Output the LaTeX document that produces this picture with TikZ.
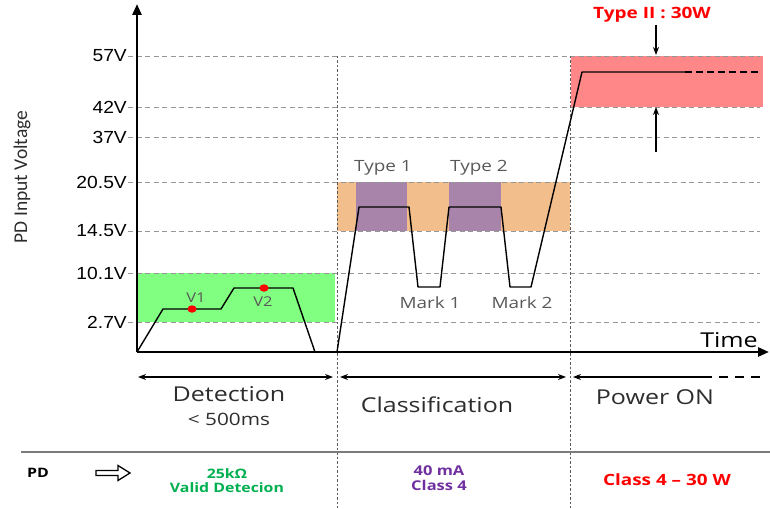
\documentclass[tikz,border=0pt]{standalone}
\usepackage{fontspec}
\setmainfont{Open Sans}
\newfontfamily\tickfont[FakeStretch=1.1]{Liberation Sans}
\newfontfamily\lblfont[FakeStretch=1.22]{Open Sans}
\newfontfamily\vfont{Carlito}
\usetikzlibrary{arrows.meta}

\definecolor{detgreen}{RGB}{128,255,128}
\definecolor{clsorange}{RGB}{242,190,140}
\definecolor{clspurple}{RGB}{168,132,170}
\definecolor{pwrred}{RGB}{255,135,135}
\definecolor{gridgray}{RGB}{150,150,150}
\definecolor{sepgray}{RGB}{90,90,90}
\definecolor{txtgray}{RGB}{89,89,89}
\definecolor{txtdark}{RGB}{45,45,45}
\definecolor{txtgreen}{RGB}{0,176,80}
\definecolor{txtpurple}{RGB}{112,48,160}

\newcommand{\fs}[1]{\fontsize{#1}{#1}\selectfont}

\tikzset{
  grid line/.style={gridgray, line width=0.9pt, dash pattern=on 5pt off 3.5pt},
  phase line/.style={sepgray, line width=0.8pt, dash pattern=on 2.5pt off 2pt},
  axis line/.style={black, line width=2.6pt, -{Triangle[length=11pt,width=9pt]}},
  wave/.style={black, line width=1.4pt, line join=round},
  span/.style={black, line width=1.2pt, {Stealth[length=8pt,width=6pt]}-{Stealth[length=8pt,width=6pt]}},
  level arrow/.style={black, line width=1.3pt, -{Stealth[length=8pt,width=6pt]}},
  tick label/.style={anchor=east, inner sep=0pt, font=\tickfont\fs{17.5}, text=black},
  wave label/.style={inner sep=0pt, font=\lblfont\fs{15.5}, text=txtgray},
  phase label/.style={inner sep=0pt, font=\lblfont\fs{20.5}, text=txtdark},
  pd label/.style={inner sep=0pt, align=center, font=\lblfont\bfseries\fs{13}},
  dot/.style={ellipse, fill=red, inner sep=0pt, minimum width=9pt, minimum height=7.5pt}
}
\usetikzlibrary{shapes.geometric}

\begin{document}
\begin{tikzpicture}[x=1pt, y=-1pt]
\useasboundingbox (0,0) rectangle (770,508);

% voltage windows of each phase
\fill[detgreen] (137,273) rectangle (335,322);
\fill[clsorange] (337,182) rectangle (570,231);
\fill[clspurple] (356,182) rectangle (407,231);
\fill[clspurple] (449,182) rectangle (501,231);
\fill[pwrred] (571,56) rectangle (763,107);

% voltage levels
\foreach \y/\v in {56/57V, 107/42V, 137/37V, 182/20.5V, 231/14.5V, 273/10.1V, 322/2.7V}{
  \draw[grid line] (128,\y) -- (760,\y);
  \node[tick label] (lv-\v) at (127,\y) {\v};
}

% phase boundaries
\draw[phase line] (337,56) -- (337,508);
\draw[phase line] (570,56) -- (570,508);

% detection signature
\coordinate (d0) at (137,352);
\coordinate (d1) at (163,309);
\coordinate (d2) at (221,309);
\coordinate (d3) at (234,288);
\coordinate (d4) at (293,288);
\coordinate (d5) at (315,352);
\draw[wave] (d0) -- (d1) -- (d2) -- (d3) -- (d4) -- (d5);
\node[dot] (v1dot) at (192,309) {};
\node[dot] (v2dot) at (264,288) {};
\node[wave label, font=\lblfont\fs{13.5}] (v1) at (196,298) {V1};
\node[wave label, font=\lblfont\fs{13.5}] (v2) at (263,302) {V2};

% classification and power-up
\coordinate (c0) at (337,352);
\coordinate (c1) at (359,207);
\coordinate (c2) at (409,207);
\coordinate (c3) at (418,287);
\coordinate (c4) at (440,287);
\coordinate (c5) at (449,207);
\coordinate (c6) at (501,207);
\coordinate (c7) at (510,287);
\coordinate (c8) at (531,287);
\coordinate (p0) at (582,72);
\coordinate (p1) at (685,72);
\coordinate (p2) at (758,72);
\draw[wave] (c0) -- (c1) -- (c2) -- (c3) -- (c4) -- (c5) -- (c6) -- (c7) -- (c8) -- (p0) -- (p1);
\draw[wave, dash pattern=on 7pt off 4pt] (p1) -- (p2);

\node[wave label] (type1) at (383,168) {Type 1};
\node[wave label] (type2) at (479,168) {Type 2};
\node[wave label] (mark1) at (430,303) {Mark 1};
\node[wave label] (mark2) at (522,303) {Mark 2};

% Type II window
\node[inner sep=0pt, font=\lblfont\bfseries\fs{15.6}, text=red] (typeII) at (652,15) {Type II : 30W};
\coordinate (hiTop) at (656,25);
\coordinate (hiBot) at (656,55);
\coordinate (loTop) at (656,107);
\coordinate (loBot) at (656,152);
\draw[level arrow] (hiTop) -- (hiBot);
\draw[level arrow] (loBot) -- (loTop);

% axes
\coordinate (origin) at (137,352);
\coordinate (ytip) at (137,4);
\coordinate (xtip) at (769,352);
\draw[axis line] (origin) -- (ytip);
\draw[axis line] (origin) -- (xtip);
\node[phase label, text=black] (time) at (729,340) {Time};
\node[inner sep=0pt, rotate=90, font=\vfont\fs{19.5}, text=txtdark] (ylabel) at (22,177) {PD Input Voltage};

% phase spans
\coordinate (s0) at (138,377);
\coordinate (s1) at (333,377);
\coordinate (s2) at (340,377);
\coordinate (s3) at (566,377);
\coordinate (s4) at (573,377);
\coordinate (s5) at (703,377);
\coordinate (s6) at (760,377);
\draw[span] (s0) -- (s1);
\draw[span] (s2) -- (s3);
\draw[black, line width=1.2pt, {Stealth[length=8pt,width=6pt]}-] (s4) -- (s5);
\draw[black, line width=1.2pt, dash pattern=on 9pt off 7pt] (s5) -- (s6);

\node[phase label] (det) at (229,394) {Detection};
\node[phase label, font=\lblfont\fs{17}] (det-t) at (229,419) {< 500ms};
\node[phase label] (cls) at (437,405) {Classification};
\node[phase label] (pwr) at (655,397) {Power ON};

% PD response row
\coordinate (rowL) at (21,452);
\coordinate (rowR) at (770,452);
\draw[sepgray!80, line width=1.6pt] (rowL) -- (rowR);
\node[pd label, text=black] (pd) at (38,473) {PD};
% hollow block arrow
\coordinate (ha) at (96,470.5);
\coordinate (hb) at (118,470.5);
\coordinate (hc) at (118,465.5);
\coordinate (hd) at (130,473);
\coordinate (he) at (118,480.5);
\coordinate (hf) at (118,475.5);
\coordinate (hg) at (96,475.5);
\draw[black, line width=1.3pt, line join=miter] (ha) -- (hb) -- (hc) -- (hd) -- (he) -- (hf) -- (hg) -- cycle;
\node[pd label, text=txtgreen] (det-pd) at (227,481) {25kΩ\\[1pt]Valid Detecion};
\node[pd label, text=txtpurple, font=\lblfont\bfseries\fs{13.5}] (cls-pd) at (439,478) {40 mA\\[1pt]Class 4};
\node[pd label, text=red, font=\lblfont\bfseries\fs{15.5}] (pwr-pd) at (667,480) {Class 4 – 30 W};
\end{tikzpicture}
\end{document}
